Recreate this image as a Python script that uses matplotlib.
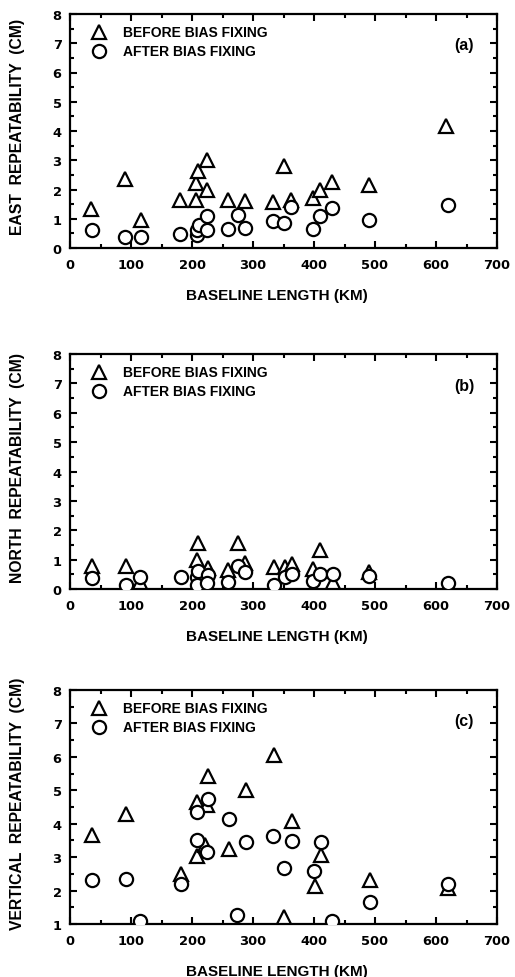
import matplotlib
matplotlib.use("Agg")
import matplotlib.pyplot as plt
from matplotlib.ticker import MultipleLocator

# ---------------- data ----------------
east_before_x = [35, 90, 116, 180, 207, 207, 210, 225, 224, 259, 287, 333, 350, 363, 399, 410, 429, 490, 617]
east_before_y = [1.35, 2.37, 0.95, 1.65, 1.63, 2.22, 2.63, 3.0, 1.97, 1.63, 1.6, 1.57, 2.82, 1.65, 1.7, 1.97, 2.25, 2.14, 4.16]
east_after_x = [36.6, 90, 116, 181, 207.5, 208.6, 212, 225, 225, 259, 275, 287, 333, 350.7, 363, 399, 410, 429, 490, 619]
east_after_y = [0.63, 0.36, 0.36, 0.49, 0.43, 0.6, 0.8, 1.11, 0.63, 0.66, 1.13, 0.7, 0.91, 0.85, 1.4, 0.66, 1.11, 1.37, 0.97, 1.46]

north_before_x = [35.5, 91.8, 114.8, 210, 207.7, 226.8, 259.6, 274.9, 286.9, 334, 352.5, 363.4, 399, 410, 430.6, 490.7]
north_before_y = [0.77, 0.79, 0.25, 1.57, 1.0, 0.70, 0.66, 1.57, 0.89, 0.74, 0.74, 0.85, 0.68, 1.34, 0.25, 0.59]
north_after_x = [35.5, 91.8, 114.8, 182, 207.7, 210, 207.7, 226.8, 224, 259.6, 274.9, 286.9, 334, 352.5, 363.4, 399, 410, 430.6, 490.7, 619]
north_after_y = [0.36, 0.14, 0.42, 0.40, 0.40, 0.60, 0.12, 0.47, 0.22, 0.25, 0.79, 0.59, 0.15, 0.40, 0.51, 0.28, 0.51, 0.51, 0.45, 0.20]

vert_before_x = [36.6, 91, 182, 208.6, 208.6, 222, 226.6, 225, 261, 288, 334, 350.6, 364, 401, 411, 491.5, 620]
vert_before_y = [3.66, 4.29, 2.49, 3.04, 4.66, 3.36, 5.43, 4.55, 3.24, 5.0, 6.05, 1.2, 4.09, 2.15, 3.06, 2.32, 2.07]
vert_after_x = [36.6, 91, 115, 182, 208.6, 209, 225, 226.6, 260, 274, 288, 333, 351, 364, 400, 411, 430, 491.5, 620]
vert_after_y = [2.32, 2.36, 1.1, 2.21, 3.51, 4.34, 3.14, 4.75, 4.14, 1.28, 3.44, 3.64, 2.68, 3.47, 2.59, 3.44, 1.1, 1.67, 2.2]

panel_tags = ["(a)", "(b)", "(c)"]
y_labels = ["EAST  REPEATABILITY  (CM)", "NORTH  REPEATABILITY  (CM)", "VERTICAL  REPEATABILITY  (CM)"]
x_label = "BASELINE LENGTH (KM)"
legend_labels = ["BEFORE BIAS FIXING", "AFTER BIAS FIXING"]
y_limits = [(0, 8), (0, 8), (1, 8)]

panels = [
    (east_before_x, east_before_y, east_after_x, east_after_y),
    (north_before_x, north_before_y, north_after_x, north_after_y),
    (vert_before_x, vert_before_y, vert_after_x, vert_after_y),
]

# ---------------- figure ----------------
W, H = 515, 978
fig = plt.figure(figsize=(W / 100, H / 100), dpi=100)
fig.patch.set_facecolor("white")

# axes boxes in pixels: (left, top, right, bottom)
boxes = [(70, 15, 497, 249), (70, 355, 497, 590), (70, 691, 497, 925)]

xlbl_font = dict(family="Liberation Sans", weight="bold", size=11)
ylbl_font = dict(family="Liberation Sans", weight="bold", size=11.3)
leg_font = dict(family="Liberation Sans", weight="bold", size=10)

mk = dict(linestyle="none", markerfacecolor="white", markeredgecolor="black",
          markeredgewidth=1.6)

for i, (bx, by, ax_, ay) in enumerate(panels):
    l, t, r, b = boxes[i]
    ax = fig.add_axes([l / W, 1 - b / H, (r - l) / W, (b - t) / H])
    ax.plot(bx, by, marker="^", markersize=9.5, zorder=3, **mk)
    ax.plot(ax_, ay, marker="o", markersize=9.5, zorder=4, **mk)

    ax.set_xlim(0, 700)
    ax.set_ylim(*y_limits[i])
    ax.xaxis.set_major_locator(MultipleLocator(100))
    ax.xaxis.set_minor_locator(MultipleLocator(50))
    ax.yaxis.set_major_locator(MultipleLocator(1))
    ax.yaxis.set_minor_locator(MultipleLocator(0.5))
    ax.tick_params(which="both", direction="in", top=True, right=True, width=1.5)
    ax.tick_params(which="major", length=5)
    ax.tick_params(which="minor", length=3)
    ax.tick_params(axis="x", which="major", pad=7)
    ax.tick_params(axis="y", which="major", pad=6)
    for s in ax.spines.values():
        s.set_linewidth(1.6)
    for lab in ax.get_xticklabels() + ax.get_yticklabels():
        lab.set_fontfamily("DejaVu Sans")
        lab.set_fontweight("bold")
        lab.set_fontsize(9.4)

    ax.set_xlabel(x_label, **xlbl_font)
    ax.xaxis.set_label_coords(0.485, -0.172)
    ax.set_ylabel(y_labels[i], **ylbl_font)
    ax.yaxis.set_label_coords(-0.105, 0.52)

    # legend
    ax.plot([0.068], [0.922], marker="^", markersize=9.5, transform=ax.transAxes,
            clip_on=False, **mk)
    ax.plot([0.068], [0.842], marker="o", markersize=9.5, transform=ax.transAxes,
            clip_on=False, **mk)
    ax.text(0.124, 0.922, legend_labels[0], transform=ax.transAxes,
            va="center", ha="left", **leg_font)
    ax.text(0.124, 0.842, legend_labels[1], transform=ax.transAxes,
            va="center", ha="left", **leg_font)
    ax.text(0.923, 0.868, panel_tags[i], transform=ax.transAxes,
            va="center", ha="center", family="Liberation Sans", weight="bold", size=11.5)

fig.savefig("out.png", dpi=100, facecolor="white")
